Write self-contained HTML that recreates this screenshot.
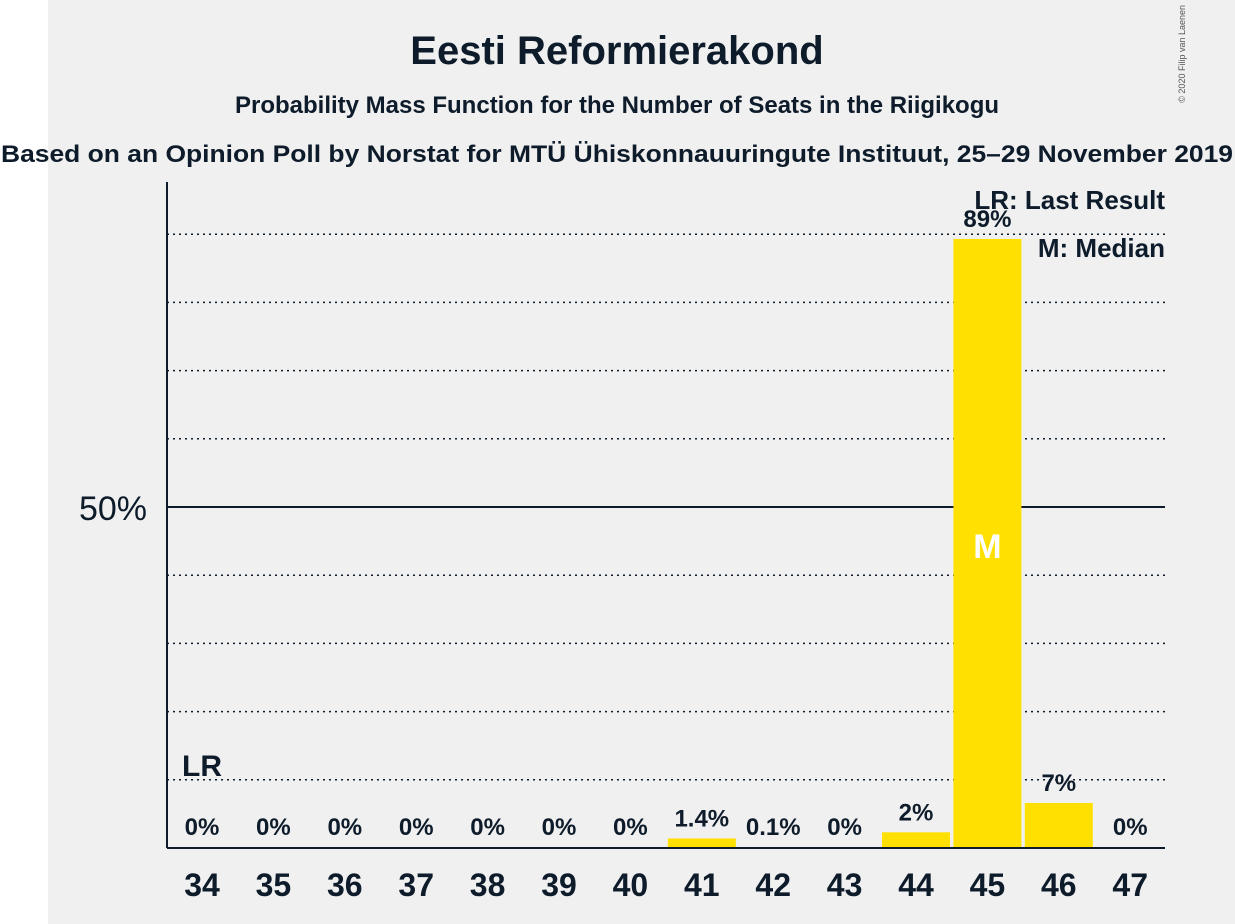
<!DOCTYPE html>
<html><head><meta charset="utf-8"><style>
body{margin:0;background:#fff;}
svg{display:block;font-family:"Liberation Sans",sans-serif;}
</style></head><body>
<svg id="chart" width="1235" height="924" viewBox="0 0 1235 924">
<rect x="48" y="0" width="1187" height="924" fill="#f0f0f0"/>
<text x="617" y="64" text-anchor="middle" font-size="40" font-weight="bold" fill="#0d1b2a">Eesti Reformierakond</text>
<text x="617" y="113" text-anchor="middle" font-size="24" font-weight="bold" fill="#0d1b2a">Probability Mass Function for the Number of Seats in the Riigikogu</text>
<text x="617" y="162" text-anchor="middle" font-size="24" font-weight="bold" fill="#0d1b2a" textLength="1232" lengthAdjust="spacingAndGlyphs">Based on an Opinion Poll by Norstat for MTÜ Ühiskonnauuringute Instituut, 25–29 November 2019</text>
<text x="1185" y="5" font-size="9" fill="#555" transform="rotate(-90 1185 5)" text-anchor="end">© 2020 Filip van Laenen</text>
<g id="grid"></g>
<g id="bars"></g>
<g id="labels"></g>
<line x1="167" y1="182" x2="167" y2="848" stroke="#0d1b2a" stroke-width="2"/>
<line x1="167" y1="848" x2="1165" y2="848" stroke="#0d1b2a" stroke-width="2"/>
<text x="147" y="520" text-anchor="end" font-size="34" fill="#0d1b2a">50%</text>
<text x="182" y="776" font-size="30" font-weight="bold" fill="#0d1b2a">LR</text>
<text x="1165" y="209" text-anchor="end" font-size="26" font-weight="bold" fill="#0d1b2a">LR: Last Result</text>
<text x="1165" y="257" text-anchor="end" font-size="26" font-weight="bold" fill="#0d1b2a">M: Median</text>
</svg>
<script>
const seats=[34,35,36,37,38,39,40,41,42,43,44,45,46,47];
const probs=[0,0,0,0,0,0,0,1.4,0.1,0,2.3,89.3,6.6,0];
const valueLabels=["0%","0%","0%","0%","0%","0%","0%","1.4%","0.1%","0%","2%","89%","7%","0%"];
const gridTicks=[10,20,30,40,50,60,70,80,90];
const medianSeat=45;
const NS="http://www.w3.org/2000/svg";
const y=v=>848-v*6.82;
const x=s=>202+(s-34)*71.4;
function mk(t,a,p){const e=document.createElementNS(NS,t);for(const k in a)e.setAttribute(k,a[k]);document.getElementById(p).appendChild(e);return e;}
gridTicks.forEach(g=>{
 const l=mk('line',{x1:167,x2:1165,y1:y(g),y2:y(g),stroke:'#0d1b2a','stroke-width':g===50?2:1.5,'stroke-dasharray':g===50?'none':'2 4'},'grid');
 
 
});
seats.forEach((s,i)=>{
 const v=probs[i];
 if(v>0){
  const r=mk('rect',{x:x(s)-34,y:y(v),width:68,height:848-y(v),fill:'#ffe000'},'bars');
  
  
 }
 const ly=v>5?y(v)-10:Math.min(y(v)-12,835);
 const t=mk('text',{x:x(s),y:v>5?y(v)-12:(v>1?y(v)-12:835),'text-anchor':'middle','font-size':24,'font-weight':'bold',fill:'#0d1b2a'},'labels');
 t.textContent=valueLabels[i];
 
 
 const xl=mk('text',{x:x(s),y:896,'text-anchor':'middle','font-size':32,'font-weight':'bold',fill:'#0d1b2a'},'labels');
 xl.textContent=s;
 
 
});
const mi=seats.indexOf(medianSeat);
const m=mk('text',{x:x(medianSeat),y:558,'text-anchor':'middle','font-size':34,'font-weight':'bold',fill:'#fff'},'labels');
m.textContent='M';


</script>
</body></html>
